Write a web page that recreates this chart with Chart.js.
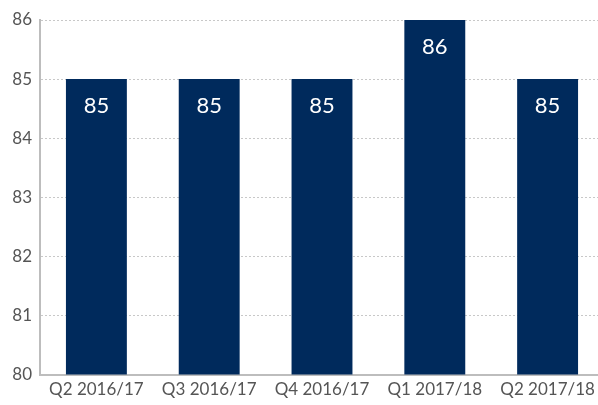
<!DOCTYPE html>
<html>
<head>
<meta charset="utf-8">
<script src="https://cdn.jsdelivr.net/npm/chart.js@4"></script>
<style>
  html, body { margin: 0; padding: 0; background: #fff; overflow: hidden; }
  #wrap { width: 604px; height: 405px; }
</style>
</head>
<body>
<div id="wrap"><canvas id="chart"></canvas></div>
<script>
const categories = ["Q2 2016/17", "Q3 2016/17", "Q4 2016/17", "Q1 2017/18", "Q2 2017/18"];
const values = [85, 85, 85, 86, 85];
const yMin = 80;
const yMax = 86;

const BAR = "#002a5c";
const FONT = "Lato, 'Open Sans', sans-serif";

// white value labels inside the top of each bar
const barLabels = {
  id: "barLabels",
  afterDatasetsDraw(chart) {
    const ctx = chart.ctx;
    const meta = chart.getDatasetMeta(0);
    ctx.save();
    ctx.fillStyle = "#fff";
    ctx.font = "22px " + FONT;
    ctx.textAlign = "center";
    ctx.textBaseline = "middle";
    meta.data.forEach((bar, i) => {
      ctx.fillText(String(values[i]), bar.x, bar.y + 27);
    });
    ctx.restore();
  }
};

new Chart(document.getElementById("chart"), {
  type: "bar",
  data: {
    labels: categories,
    datasets: [{
      data: values,
      backgroundColor: BAR,
      borderWidth: 0,
      categoryPercentage: 1,
      barPercentage: 0.54,
    }]
  },
  options: {
    responsive: true,
    maintainAspectRatio: false,
    animation: false,
    layout: { padding: { top: 20, right: 0, bottom: 0, left: 0 } },
    plugins: {
      legend: { display: false },
      tooltip: { enabled: false }
    },
    scales: {
      x: {
        grid: { display: false, drawTicks: false },
        border: { color: "#bdbdbd", width: 2 },
        ticks: { color: "#555", font: { family: FONT, size: 17 }, padding: 5, maxRotation: 0 }
      },
      y: {
        min: yMin,
        max: yMax,
        ticks: { stepSize: 1, color: "#555", font: { family: FONT, size: 17 }, padding: 8 },
        grid: { color: "#c8c8c8", drawTicks: false, lineWidth: 1 },
        border: { color: "#bdbdbd", width: 2, dash: [2, 2] },
        afterFit(scale) { scale.width = 40; }
      }
    }
  },
  plugins: [barLabels]
});
</script>
</body>
</html>
